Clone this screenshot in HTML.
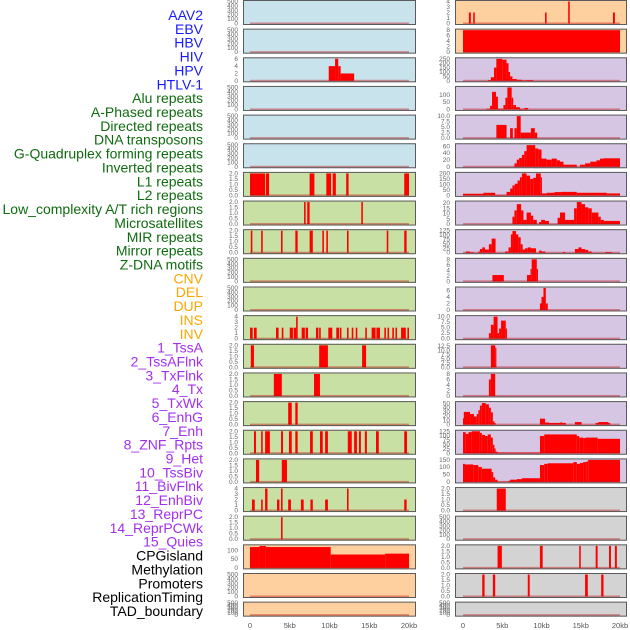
<!DOCTYPE html>
<html><head><meta charset="utf-8">
<style>
html,body{margin:0;padding:0;background:#fff;}
svg{display:block;font-family:"Liberation Sans",sans-serif;}
</style></head>
<body>
<svg id="chart" width="630" height="630" viewBox="0 0 630 630"></svg>
<script>
const labels = ["AAV2","EBV","HBV","HIV","HPV","HTLV-1","Alu repeats","A-Phased repeats","Directed repeats","DNA transposons","G-Quadruplex forming repeats","Inverted repeats","L1 repeats","L2 repeats","Low_complexity A/T rich regions","Microsatellites","MIR repeats","Mirror repeats","Z-DNA motifs","CNV","DEL","DUP","INS","INV","1_TssA","2_TssAFlnk","3_TxFlnk","4_Tx","5_TxWk","6_EnhG","7_Enh","8_ZNF_Rpts","9_Het","10_TssBiv","11_BivFlnk","12_EnhBiv","13_ReprPC","14_ReprPCWk","15_Quies","CPGisland","Methylation","Promoters","ReplicationTiming","TAD_boundary"];
const labelColors = ["#1a1aff","#1a1aff","#1a1aff","#1a1aff","#1a1aff","#1a1aff"].concat(Array(13).fill("#0f6b0f"),Array(5).fill("#ffa500"),Array(15).fill("#a22ff0"),Array(5).fill("#000000"));
const xTicks = [0,5,10,15,20];
const xTickLabels = ["0","5kb","10kb","15kb","20kb"];
const T500=[0,100,200,300,400,500], T2=[0,0.5,1.0,1.5,2.0], T4=[0,1,2,3,4];
// per panel: y-axis max, tick values, segments [startKb,endKb,value]
const leftYMax = [500,500,6,500,500,500,2,2,2,500,500,4,2,2,2,2,2,4,2,127,500,500];
const leftTicks = [T500,T500,[0,2,4,6],T500,T500,T500,T2,T2,T2,T500,T500,T4,T2,T2,T2,T2,T2,T4,T2,[0,50,100],T500,T500];
const leftSegs = [
 [],[],
 [[9.9,10.7,4],[10.7,11.1,6],[11.1,11.4,4],[11.4,13.1,2]],
 [],[],[],
 [[0,1.9,2],[2.0,2.4,2],[7.5,8.1,2],[9.6,10.2,2],[10.4,10.8,2],[12.1,12.4,2],[19.4,20,2]],
 [[6.8,7.0,2],[7.2,7.5,2],[14.0,14.2,2]],
 [[0.1,0.3,2],[1.4,1.6,2],[3.9,4.1,2],[5.7,6.0,2],[7.5,7.9,2],[9.1,9.3,2],[9.6,9.8,2],[12.2,12.4,2],[17.2,17.4,2],[19.4,19.7,2]],
 [],[],
 [[0,0.34,2],[0.5,0.84,2],[3.27,3.6,2],[4.0,4.2,2],[5.0,5.4,2],[5.5,5.8,2],[5.8,6.0,4],[6.5,6.9,2],[7.0,7.3,2],[8.3,8.6,2],[8.7,8.9,2],[9.85,10.35,2],[10.85,11.2,2],[11.3,11.5,2],[12.2,12.4,2],[12.8,13.0,2],[13.3,13.5,2],[14.5,14.7,2],[15.3,15.8,2],[15.9,16.35,2],[16.9,17.1,2],[17.3,17.5,2],[17.9,18.1,2],[18.3,18.5,2],[19.0,19.6,2],[19.8,20.0,2]],
 [[0.1,0.5,2],[8.7,9.8,2],[14.1,14.6,2]],
 [[3.0,4.0,2],[8.05,8.8,2]],
 [[4.8,5.25,2],[5.7,6.0,2]],
 [[0.5,0.75,2],[1.4,1.6,2],[1.9,2.5,2],[3.9,4.15,2],[4.9,5.25,2],[5.7,6.0,2],[7.55,7.9,2],[8.8,9.15,2],[9.45,9.8,2],[12.3,12.8,2],[13.1,13.45,2],[13.7,13.95,2],[14.45,14.7,2],[15.85,16.2,2],[19.4,19.75,2]],
 [[0.75,1.15,2],[4.0,4.65,2]],
 [[0.25,0.6,2],[1.4,1.6,2],[1.9,2.2,4],[3.4,3.7,2],[3.9,4.1,4],[4.8,5.15,2],[6.4,6.75,2],[7.6,7.9,2],[9.45,9.8,2],[12.2,12.4,4],[19.4,19.7,2]],
 [[3.9,4.1,2]],
 [[0,1.2,120],[1.2,2.0,126],[2.0,10.15,120],[10.15,17.0,77],[17.0,20,82]],
 [],[]
];
const rightYMax = [4,8,250,150,10,65,200,21,125,8,6.7,10,13,8,52,125,150,2,500,2,2,500];
const rightTicks = [T4,[0,2,4,6,8],[0,50,100,150,200,250],[0,50,100],[0,2.5,5.0,7.5,10.0],[0,20,40,60],[0,50,100,150,200],[0,5,10,15,20],[0,25,50,75,100,125],[0,2,4,6,8],[0,2,4,6],[0,2.5,5.0,7.5,10.0],[0,2.5,5.0,7.5,10.0,12.5],[0,2,4,6,8],[0,10,20,30,40,50],[0,25,50,75,100,125],[0,50,100,150],T2,T500,T2,T2,T500];
const rightSegs = [
 [[0.75,1.0,2],[1.3,1.5,2],[10.45,10.65,2],[13.4,13.6,4],[19.1,19.35,2]],
 [[0,20,8]],
 [[3.2,3.55,8],[3.55,3.95,40],[3.95,4.25,150],[4.25,5.0,250],[5.0,5.55,240],[5.55,5.8,200],[5.8,6.0,100],[6.0,6.3,50],[6.3,6.85,20],[6.85,7.5,12],[7.5,8.1,5],[8.1,8.95,8]],
 [[2.97,3.45,5],[3.45,3.7,25],[3.7,4.2,120],[4.2,4.45,87],[4.45,5.15,5],[5.15,5.4,30],[5.4,5.65,80],[5.65,6.2,150],[6.2,6.4,80],[6.4,6.75,30],[6.75,7.25,15],[7.25,7.7,5],[7.8,8.3,10]],
 [[4.25,5.55,6],[6.0,6.35,4.5],[6.55,6.85,4.5],[6.85,7.35,10],[7.35,8.65,2.5],[8.65,9.15,4.5],[9.15,9.45,2.5]],
 [[6.55,6.85,10],[6.85,7.15,21],[7.15,7.5,26],[7.5,7.8,35],[7.8,8.1,46],[8.1,9.2,64],[9.2,9.6,54],[9.6,10.0,51],[10.0,10.65,24],[10.65,11.3,21],[11.3,11.95,24],[11.95,12.35,19],[12.35,12.8,15],[12.8,14.5,6],[14.9,15.55,6],[15.55,16.2,10],[16.2,17.0,15],[17.0,17.45,19],[17.45,17.9,24],[17.9,20,25]],
 [[0,2.6,15],[2.6,4.1,24],[4.1,5.55,5],[5.55,6.0,32],[6.0,6.3,62],[6.3,6.6,91],[6.6,6.95,106],[6.95,7.25,135],[7.25,7.5,165],[7.5,8.1,200],[8.1,8.55,180],[8.55,8.95,150],[8.95,9.3,160],[9.3,9.9,200],[9.9,10.0,165],[10.0,10.65,18],[10.65,11.65,24],[11.65,12.55,30],[12.55,14.5,32],[14.5,18.3,24],[18.3,20,18]],
 [[6.3,6.55,7],[6.55,6.85,13],[6.85,7.4,19],[7.4,7.7,13],[7.7,8.1,4],[8.1,8.65,11],[8.65,8.95,8],[8.95,9.4,4],[9.7,9.95,2],[9.95,10.45,4],[10.45,10.95,3],[12.05,12.35,6],[12.35,13.0,11],[13.0,14.15,4],[14.15,14.5,15],[14.5,15.1,21],[15.1,15.55,19],[15.55,15.95,16],[15.95,16.4,15],[16.4,17.25,11],[17.25,17.55,7],[17.55,17.95,4],[17.95,20,3]],
 [[0.35,0.9,7],[0.9,1.4,3],[1.95,2.15,7],[2.15,2.45,21],[2.45,2.8,30],[2.8,3.3,18],[3.3,3.65,48],[3.65,4.15,80],[5.35,5.8,7],[5.8,6.1,30],[6.1,6.3,104],[6.3,6.75,123],[6.75,7.05,104],[7.05,7.35,88],[7.35,7.6,48],[7.6,7.9,18],[7.9,8.25,25],[8.25,8.65,30],[8.65,9.3,25],[9.7,10.0,12],[10.0,10.5,7],[12.7,13.0,4],[14.25,14.7,21],[14.7,15.1,30],[15.1,15.55,21],[15.55,15.95,16],[15.95,16.4,7],[18.1,18.95,4]],
 [[3.75,5.2,2.3],[8.15,8.6,2.3],[8.6,8.75,4.5],[8.75,9.4,8],[9.4,9.5,4.5]],
 [[9.8,10.0,2],[10.0,10.25,4],[10.25,10.55,6.7],[10.55,10.8,2]],
 [[3.3,3.55,2.5],[3.55,3.9,6.3],[3.9,4.4,10],[4.4,4.6,2.5],[4.6,4.85,4.6],[4.85,5.45,8.2],[5.45,5.6,4.6]],
 [[3.55,4.1,13],[4.1,4.2,11.5]],
 [[3.3,3.55,6],[3.55,4.1,8]],
 [[0,0.1,15],[0.1,0.9,30],[0.9,1.4,25],[1.4,1.75,19],[1.75,1.95,25],[1.95,2.15,34],[2.15,2.4,45],[2.4,2.9,51],[2.9,3.3,48],[3.3,3.55,40],[3.55,3.8,29],[3.8,4.0,8],[4.0,4.15,4],[9.8,10.45,14],[10.45,10.95,5],[10.95,12.35,4],[12.35,12.65,5],[12.65,13.1,4],[14.25,15.1,6],[16.9,17.25,4],[17.25,18.5,6],[18.5,18.75,4]],
 [[0,0.35,120],[0.35,0.7,110],[0.7,1.1,120],[1.1,2.15,125],[2.15,2.4,116],[2.4,2.8,104],[2.8,3.15,98],[3.15,3.55,107],[3.55,3.8,89],[3.8,4.0,48],[4.0,4.15,27],[4.15,4.4,9],[4.4,9.8,4],[9.8,10.35,98],[10.35,14.5,107],[14.5,14.8,98],[14.8,15.3,89],[15.3,15.6,86],[15.6,17.15,89],[17.15,20,82]],
 [[0,0.25,123],[0.25,1.3,119],[1.3,1.95,115],[1.95,2.4,102],[2.4,3.65,90],[3.65,3.85,67],[3.85,4.1,31],[4.1,4.4,15],[4.4,5.8,2],[5.8,6.0,8],[6.0,6.85,15],[6.85,7.5,19],[7.5,9.8,25],[9.8,10.35,115],[10.35,10.8,123],[10.8,14.05,127],[14.05,14.5,135],[14.5,14.9,123],[14.9,15.3,129],[15.3,15.75,135],[15.75,15.95,140],[15.95,20,150]],
 [[4.3,5.45,2]],
 [],
 [[4.4,4.95,2],[9.8,10.15,2],[14.8,15.0,2],[16.9,17.15,2],[18.6,18.85,2],[19.35,19.6,2]],
 [[2.45,2.75,2],[3.8,4.1,2],[8.25,8.5,2],[15.55,15.9,2],[17.6,17.9,2]],
 []
];
const leftBg = ["#c9e3ec","#c9e3ec","#c9e3ec","#c9e3ec","#c9e3ec","#c9e3ec"].concat(Array(13).fill("#c8e0a4"),Array(3).fill("#ffd09f"));
const rightBg = ["#ffd09f","#ffd09f"].concat(Array(15).fill("#d6c6e3"),Array(5).fill("#d3d3d3"));

const NS="http://www.w3.org/2000/svg";
const svg=document.getElementById('chart');
function mk(tag,attrs,parent){const e=document.createElementNS(NS,tag);for(const k in attrs)e.setAttribute(k,attrs[k]);(parent||svg).appendChild(e);return e;}

// labels
labels.forEach((t,i)=>{
  const e=mk('text',{x:203,y:15+i*13.86+5,'text-anchor':'end','font-size':14,fill:labelColors[i]});
  e.textContent=t;
  
  
});

const rowTop=i=>i*28.65;
const rowH=i=>i===21?15:25;

function drawPanel(col,i,bg,ymax,ticks,segs){
  const px = col===0?243:455, pw = col===0?173:172;
  const x0 = col===0?250:463, x1 = col===0?409:620;
  const sx = kb=>x0+(kb/20)*(x1-x0);
  const top=rowTop(i), h=rowH(i), bottom=top+h;
  const yb=bottom-1.5, yt=top+1.5;
  const sy = v=>yb-(v/ymax)*(yb-yt);
  const g=mk('g',{});
  
  
  mk('rect',{x:px,y:top,width:pw,height:h,fill:bg},g);
  segs.forEach(s=>{
    const r=mk('rect',{x:sx(s[0]),y:sy(s[2]),width:Math.max(1.2,sx(s[1])-sx(s[0])),height:yb-sy(s[2]),fill:'#ff0000'},g);
    
    
  });
  mk('rect',{x:sx(0),y:yb-1,width:sx(20)-sx(0),height:2,fill:'rgba(190,0,0,0.4)'},g);
  mk('rect',{x:px+0.5,y:top+0.5,width:pw-1,height:h-1,fill:'none',stroke:'#5a5a5a','stroke-width':1},g);
  ticks.forEach(v=>{
    const t=mk('text',{x:px-5,y:sy(v)+2,'text-anchor':'end','font-size':6.5,fill:'#666'},g);
    t.textContent=String(v%1===0&&ticks.some(q=>q%1!==0)?v.toFixed(1):v);
    
    
  });
}
for(let i=0;i<22;i++){
  drawPanel(0,i,leftBg[i],leftYMax[i],leftTicks[i],leftSegs[i]);
  drawPanel(1,i,rightBg[i],rightYMax[i],rightTicks[i],rightSegs[i]);
}
// x axes
[[250,409],[463,620]].forEach(([a,b])=>{
  xTicks.forEach((v,k)=>{
    const t=mk('text',{x:a+(v/20)*(b-a),y:628,'text-anchor':'middle','font-size':7.5,fill:'#555'});
    t.textContent=xTickLabels[k];
    
    
  });
});
</script>
</body></html>
